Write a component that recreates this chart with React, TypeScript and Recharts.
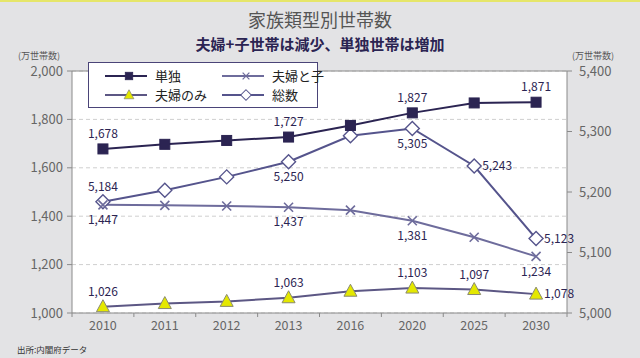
import React from 'react';
import {
  ComposedChart,
  Line,
  XAxis,
  YAxis,
  CartesianGrid,
  ReferenceLine,
  LabelList,
} from 'recharts';

// 家族類型別世帯数 (万世帯)
const years = ['2010', '2011', '2012', '2013', '2016', '2020', '2025', '2030'];
const single = [1678, 1697, 1713, 1727, 1775, 1827, 1868, 1871];
const coupleChild = [1447, 1445, 1442, 1437, 1425, 1381, 1313, 1234];
const coupleOnly = [1026, 1039, 1048, 1063, 1090, 1103, 1097, 1078];
const total = [5184, 5203, 5225, 5250, 5293, 5305, 5243, 5123];

const leftTicks = [1000, 1200, 1400, 1600, 1800, 2000];
const rightTicks = [5000, 5100, 5200, 5300, 5400];

const data = years.map((year, i) => ({
  year,
  single: single[i],
  coupleChild: coupleChild[i],
  coupleOnly: coupleOnly[i],
  total: total[i],
}));

const W = 640;
const H = 358;
const M = { top: 71, right: 0, bottom: 20, left: 0 };
const LEFT_W = 72;
const RIGHT_W = 73;
const HALF_BAND = (W - LEFT_W - RIGHT_W) / years.length / 2;

const NAVY = '#2b2452';
const C_CHILD = '#6e6c9c';
const C_ONLY = '#5c5784';
const C_TOTAL = '#55548c';
const AXIS = '#8a8a8a';
const TICK_TEXT = '#666';
const FONT = '"Noto Sans CJK JP", "Noto Sans", sans-serif';

const fmt = (v: number) => v.toLocaleString('en-US');

// which points carry a value label, and where
const singlePos: Record<number, string> = { 0: 'top', 3: 'top', 5: 'top', 7: 'top' };
const childPos: Record<number, string> = { 0: 'bottom', 3: 'bottom', 5: 'bottom', 7: 'bottom' };
const onlyPos: Record<number, string> = { 0: 'top', 3: 'top', 5: 'top', 6: 'top', 7: 'right' };
const totalPos: Record<number, string> = { 0: 'top', 3: 'bottom', 5: 'bottom', 6: 'right', 7: 'right' };

const makeLabel = (pos: Record<number, string>) => (props: any) => {
  const { x, y, value, index } = props;
  const p = pos[index];
  if (!p) return null;
  let tx = x;
  let ty = y;
  let anchor: 'middle' | 'start' = 'middle';
  if (p === 'top') ty = y - 15;
  if (p === 'bottom') ty = y + 15;
  if (p === 'right') {
    tx = x + 8;
    anchor = 'start';
  }
  return (
    <text
      key={`l-${index}`}
      x={tx}
      y={ty}
      dy="0.35em"
      textAnchor={anchor}
      fontSize={12}
      fontFamily={FONT}
      fill={NAVY}
    >
      {fmt(value)}
    </text>
  );
};

const SquareDot = (props: any) => {
  const { cx, cy, index } = props;
  return <rect key={`s-${index}`} x={cx - 5} y={cy - 5} width={10} height={10} fill={NAVY} stroke={NAVY} />;
};

const CrossDot = (props: any) => {
  const { cx, cy, index } = props;
  return (
    <g key={`c-${index}`} stroke={C_CHILD} strokeWidth={1.6}>
      <line x1={cx - 4.5} y1={cy - 4.5} x2={cx + 4.5} y2={cy + 4.5} />
      <line x1={cx - 4.5} y1={cy + 4.5} x2={cx + 4.5} y2={cy - 4.5} />
    </g>
  );
};

const TriangleDot = (props: any) => {
  const { cx, cy, index } = props;
  return (
    <polygon
      key={`t-${index}`}
      points={`${cx},${cy - 7} ${cx + 6.5},${cy + 5} ${cx - 6.5},${cy + 5}`}
      fill="#e4e800"
      stroke="#8a8a70"
      strokeWidth={1}
    />
  );
};

const DiamondDot = (props: any) => {
  const { cx, cy, index } = props;
  return (
    <polygon
      key={`d-${index}`}
      points={`${cx},${cy - 7} ${cx + 7},${cy} ${cx},${cy + 7} ${cx - 7},${cy}`}
      fill="#fff"
      stroke={C_TOTAL}
      strokeWidth={1.4}
    />
  );
};

const XTick = (props: any) => {
  const { x, y, payload, index } = props;
  return (
    <g>
      <line x1={x - HALF_BAND} y1={y} x2={x - HALF_BAND} y2={y + 4} stroke={AXIS} />
      {index === years.length - 1 && (
        <line x1={x + HALF_BAND} y1={y} x2={x + HALF_BAND} y2={y + 4} stroke={AXIS} />
      )}
      <text x={x} y={y + 17} textAnchor="middle" fontSize={12.5} fontFamily={FONT} fill={TICK_TEXT}>
        {payload.value}
      </text>
    </g>
  );
};

const legendItems = [
  { name: '単独', color: NAVY, Dot: SquareDot, left: 16, top: 5 },
  { name: '夫婦と子', color: C_CHILD, Dot: CrossDot, left: 133, top: 5 },
  { name: '夫婦のみ', color: C_ONLY, Dot: TriangleDot, left: 16, top: 24 },
  { name: '総数', color: C_TOTAL, Dot: DiamondDot, left: 133, top: 24 },
];

const LegendBox = () => (
  <div
    style={{
      position: 'absolute',
      left: 88,
      top: 60,
      width: 230,
      height: 46,
      boxSizing: 'border-box',
      background: '#fff',
      border: '1.5px solid #4a4478',
      fontFamily: FONT,
      fontSize: 13,
      color: '#222',
    }}
  >
    {legendItems.map(({ name, color, Dot, left, top }) => (
      <div
        key={name}
        style={{
          position: 'absolute',
          left,
          top,
          height: 16,
          display: 'flex',
          alignItems: 'center',
          whiteSpace: 'nowrap',
        }}
      >
        <svg width={42} height={16}>
          <line x1={0} y1={8} x2={42} y2={8} stroke={color} strokeWidth={2} />
          <g transform="translate(24,8) scale(0.75) translate(-24,-8)">
            <Dot cx={24} cy={8} index={0} />
          </g>
        </svg>
        <span style={{ marginLeft: 8, lineHeight: '16px' }}>{name}</span>
      </div>
    ))}
  </div>
);

const unitStyle: React.CSSProperties = {
  position: 'absolute',
  top: 49,
  fontSize: 9,
  lineHeight: '10px',
  color: '#555',
};

export default function App() {
  return (
    <div
      style={{
        position: 'absolute',
        left: 0,
        top: 0,
        width: W,
        height: H,
        background: '#e3e3e5',
        borderTop: '2px solid #e6e66a',
        boxSizing: 'border-box',
        overflow: 'hidden',
        fontFamily: FONT,
      }}
    >
      <div
        style={{
          position: 'absolute',
          top: 4,
          width: W,
          textAlign: 'center',
          fontSize: 18,
          color: '#555',
        }}
      >
        家族類型別世帯数
      </div>
      <div
        style={{
          position: 'absolute',
          top: 31,
          width: W,
          textAlign: 'center',
          fontSize: 15,
          fontWeight: 700,
          color: NAVY,
        }}
      >
        夫婦+子世帯は減少、単独世帯は増加
      </div>
      <div style={{ ...unitStyle, left: 18 }}>(万世帯数)</div>
      <div style={{ ...unitStyle, left: 572 }}>(万世帯数)</div>
      <div style={{ position: 'absolute', top: 341, left: 17, fontSize: 8.5, color: '#333' }}>出所:内閣府データ</div>
      <div style={{ position: 'absolute', top: -2, left: 0 }}>
        <ComposedChart width={W} height={H} data={data} margin={M}>
          <CartesianGrid
            yAxisId="left"
            vertical={false}
            stroke="#cfcfcf"
            strokeDasharray="4 3"
            fill="#fff"
          />
          <XAxis
            dataKey="year"
            scale="band"
            tickLine={false}
            tickSize={0}
            tickMargin={0}
            stroke={AXIS}
            height={25}
            tick={<XTick />}
            interval={0}
          />
          <YAxis
            yAxisId="left"
            domain={[1000, 2000]}
            ticks={leftTicks}
            width={LEFT_W}
            stroke={AXIS}
            tickSize={5}
            tickMargin={4}
            tickFormatter={fmt}
            tick={{ fontSize: 13, fill: TICK_TEXT, fontFamily: FONT }}
          />
          <YAxis
            yAxisId="right"
            orientation="right"
            domain={[5000, 5400]}
            ticks={rightTicks}
            width={RIGHT_W}
            stroke={AXIS}
            tickSize={5}
            tickMargin={7}
            tickFormatter={fmt}
            tick={{ fontSize: 13, fill: TICK_TEXT, fontFamily: FONT }}
          />
          <ReferenceLine yAxisId="left" y={2000} stroke={AXIS} />
          <Line
            yAxisId="right"
            dataKey="total"
            name="総数"
            stroke={C_TOTAL}
            strokeWidth={2}
            dot={DiamondDot}
            isAnimationActive={false}
          >
            <LabelList dataKey="total" content={makeLabel(totalPos)} />
          </Line>
          <Line
            yAxisId="left"
            dataKey="coupleChild"
            name="夫婦と子"
            stroke={C_CHILD}
            strokeWidth={2}
            dot={CrossDot}
            isAnimationActive={false}
          >
            <LabelList dataKey="coupleChild" content={makeLabel(childPos)} />
          </Line>
          <Line
            yAxisId="left"
            dataKey="coupleOnly"
            name="夫婦のみ"
            stroke={C_ONLY}
            strokeWidth={2}
            dot={TriangleDot}
            isAnimationActive={false}
          >
            <LabelList dataKey="coupleOnly" content={makeLabel(onlyPos)} />
          </Line>
          <Line
            yAxisId="left"
            dataKey="single"
            name="単独"
            stroke={NAVY}
            strokeWidth={2}
            dot={SquareDot}
            isAnimationActive={false}
          >
            <LabelList dataKey="single" content={makeLabel(singlePos)} />
          </Line>
        </ComposedChart>
      </div>
      <LegendBox />
    </div>
  );
}
